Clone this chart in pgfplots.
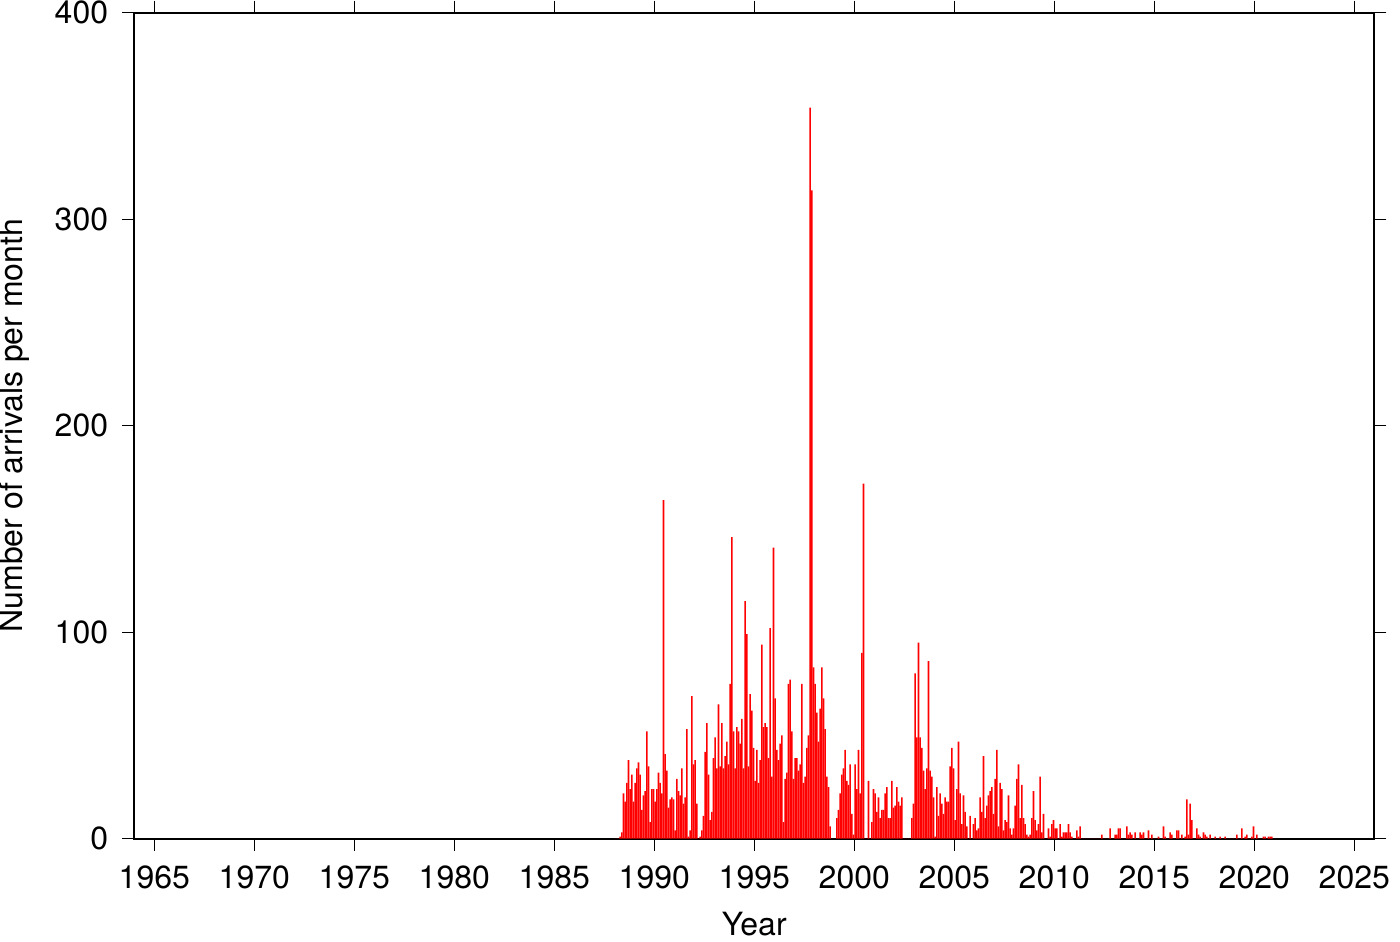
\documentclass[border=0pt]{standalone}
\usepackage{fontspec}
\setmainfont{TeX Gyre Heros}
\usepackage{pgfplots}
\usepackage{pgfplotstable}
\pgfplotsset{compat=1.18}

% monthly arrivals: one row per year, columns m1..m12 = Jan..Dec
\pgfplotstableread{
yr   m1  m2  m3  m4  m5  m6  m7  m8  m9  m10 m11 m12
1988 0   0   0   1   3   22  18  27  38  24  31  18
1989 27  34  37  31  14  21  23  52  35  8   24  24
1990 18  24  32  27  22  164 41  33  15  19  20  19
1991 4   29  23  21  34  17  20  53  1   4   69  36
1992 38  17  0   1   4   11  42  56  31  9   13  39
1993 49  34  65  35  56  34  40  47  36  75  146 52
1994 34  54  52  46  58  34  115 99  35  70  62  44
1995 28  43  27  38  94  54  56  54  39  102 30  141
1996 68  43  38  46  50  8   29  32  75  77  52  29
1997 39  39  33  36  75  27  30  44  50  354 314 83
1998 75  61  47  63  83  68  53  30  25  6   0   0
1999 0   10  14  22  31  34  43  28  26  36  12  2
2000 36  24  43  22  90  172 0   0   28  0   8   24
2001 22  13  20  10  14  14  22  25  10  10  28  15
2002 16  25  18  16  20  0   0   0   0   0   10  17
2003 80  49  95  49  44  33  24  34  86  33  30  20
2004 1   25  11  22  17  12  20  18  18  35  44  34
2005 9   24  47  22  7   21  13  6   0   11  0   7
2006 10  4   5   20  13  40  10  16  21  23  25  12
2007 29  43  6   27  24  4   9   8   21  5   2   5
2008 16  29  36  10  26  10  7   2   1   2   10  23
2009 9   4   7   30  3   12  0   0   5   1   7   9
2010 5   5   0   7   1   3   3   3   7   3   1   0
2011 0   4   1   6   0   0   0   0   0   0   0   0
2012 0   0   0   0   2   0   0   0   0   5   0   0
2013 2   2   5   5   0   0   0   6   2   3   2   0
2014 3   0   0   3   2   3   0   0   4   0   2   0
2015 0   0   1   0   0   6   1   0   0   3   2   0
2016 0   4   4   0   2   0   1   19  2   17  9   0
2017 0   5   2   1   0   3   2   1   0   2   0   0
2018 1   0   0   1   0   0   1   0   0   0   0   0
2019 0   2   0   0   5   0   1   2   0   0   1   6
2020 0   2   0   0   0   1   1   0   1   1   1   0
}\arrivals

\begin{document}
\begin{tikzpicture}
\begin{axis}[
  scale only axis,
  width=620pt, height=413pt,
  xmin=1964, xmax=2026, ymin=0, ymax=400,
  xtick={1965,1970,...,2025},
  ytick={0,100,200,300,400},
  tick align=outside,
  major tick length=6pt,
  axis line style={line width=1pt},
  every tick/.style={black, line width=0.5pt},
  /pgf/number format/assume math mode=true,
  /pgf/number format/1000 sep={},
  tick label style={font=\fontsize{16}{19}\selectfont, inner sep=0pt},
  xticklabel style={anchor=base, yshift=-18.8pt},
  yticklabel style={anchor=east, xshift=-6.9pt},
  xlabel={Year},
  ylabel={Number of arrivals per month},
  label style={font=\fontsize{16}{19}\selectfont, inner sep=0pt},
  xlabel style={at={([yshift=-48.6pt]axis description cs:0.5,0)}, anchor=base},
  ylabel style={at={([xshift=-56.0pt]axis description cs:0,0.5)}, anchor=base},
  arr/.style={ybar, bar width=0.08, bar shift=0pt, fill=red, draw=none, mark=none},
]
\addplot[arr] table[x expr=\thisrow{yr}+0.0417, y=m1]{\arrivals};
\addplot[arr] table[x expr=\thisrow{yr}+0.1250, y=m2]{\arrivals};
\addplot[arr] table[x expr=\thisrow{yr}+0.2083, y=m3]{\arrivals};
\addplot[arr] table[x expr=\thisrow{yr}+0.2917, y=m4]{\arrivals};
\addplot[arr] table[x expr=\thisrow{yr}+0.3750, y=m5]{\arrivals};
\addplot[arr] table[x expr=\thisrow{yr}+0.4583, y=m6]{\arrivals};
\addplot[arr] table[x expr=\thisrow{yr}+0.5417, y=m7]{\arrivals};
\addplot[arr] table[x expr=\thisrow{yr}+0.6250, y=m8]{\arrivals};
\addplot[arr] table[x expr=\thisrow{yr}+0.7083, y=m9]{\arrivals};
\addplot[arr] table[x expr=\thisrow{yr}+0.7917, y=m10]{\arrivals};
\addplot[arr] table[x expr=\thisrow{yr}+0.8750, y=m11]{\arrivals};
\addplot[arr] table[x expr=\thisrow{yr}+0.9583, y=m12]{\arrivals};
\end{axis}
\pgfresetboundingbox
\path[use as bounding box]
  ([xshift=-67.15pt,yshift=-51.65pt]current axis.south west)
  rectangle ([xshift=12.85pt,yshift=6.35pt]current axis.north east);
\end{tikzpicture}
\end{document}
